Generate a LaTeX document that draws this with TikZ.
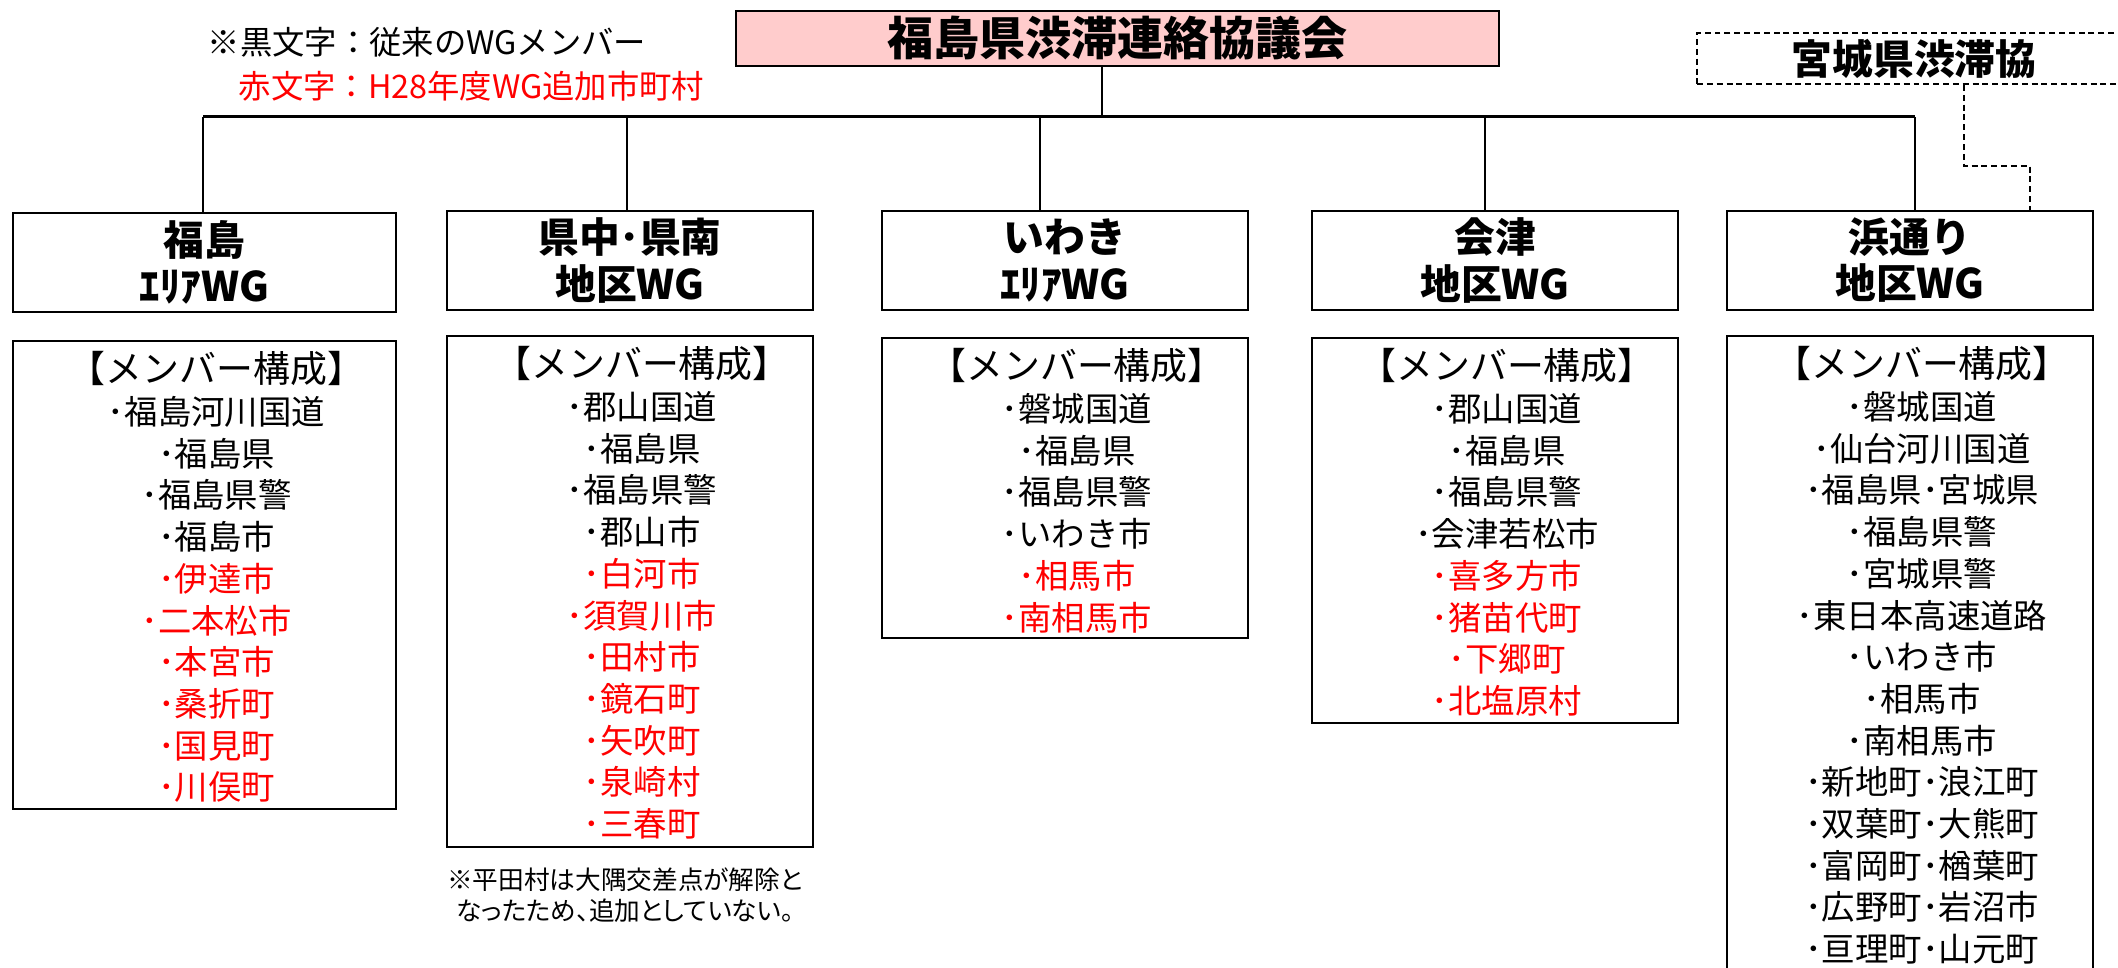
\documentclass[tikz,border=0pt]{standalone}
\usepackage{fontspec}
\setmainfont{Noto Sans CJK JP}
\newfontfamily\notefont{Noto Sans CJK JP}[RawFeature=+palt]
\usetikzlibrary{calc}
\definecolor{councilpink}{HTML}{FFCCCC}
\newcommand{\addcity}[1]{\textcolor{red}{#1}}
\newcommand{\memhead}{{\fontsize{10.5}{11.86}\selectfont 【メンバー構成】}}

\begin{document}
\begin{tikzpicture}[
    box/.style={draw=black, line width=0.65pt, inner sep=0pt, align=center},
    wgbox/.style={box, minimum height=0.99cm, font=\fontsize{11.6}{13.1}\selectfont\bfseries},
    membox/.style={box, anchor=north},
    memtext/.style={anchor=north, inner sep=0pt, align=center, font=\fontsize{9.5}{11.86}\selectfont},
    link/.style={line width=0.6pt},
    dashlink/.style={line width=0.55pt, dash pattern=on 1.7pt off 1.1pt}
]
            \useasboundingbox (0,0) rectangle (21.18,-9.68);
            \clip (0,0) rectangle (21.18,-9.68);

            % legend
            \node[anchor=west, inner sep=0pt, font=\fontsize{9.2}{11}\selectfont] (legend1) at (2.07,-0.42) {※黒文字：従来のWGメンバー};
            \node[anchor=west, inner sep=0pt, text=red, font=\fontsize{9.2}{11}\selectfont] (legend2) at (2.38,-0.86) {赤文字：H28年度WG追加市町村};

            % council and Miyagi
            \node[box, fill=councilpink, minimum width=7.63cm, minimum height=0.55cm, font=\fontsize{13.1}{15}\selectfont\bfseries] (council) at (11.175,-0.385) {福島県渋滞連絡協議会};
            \node[box, dashlink, minimum width=4.34cm, minimum height=0.51cm, font=\fontsize{11.6}{13}\selectfont\bfseries] (miyagi) at (19.14,-0.585) {宮城県渋滞協};

            % working groups
            \node[wgbox, minimum width=3.83cm] (wg1) at (2.045,-2.625) {福島\\ｴﾘｱWG};
            \node[wgbox, minimum width=3.66cm] (wg2) at (6.30,-2.605) {県中･県南\\地区WG};
            \node[wgbox, minimum width=3.66cm] (wg3) at (10.65,-2.605) {いわき\\ｴﾘｱWG};
            \node[wgbox, minimum width=3.66cm] (wg4) at (14.95,-2.605) {会津\\地区WG};
            \node[wgbox, minimum width=3.66cm] (wg5) at (19.10,-2.605) {浜通り\\地区WG};

            % tree lines
            \coordinate (stem) at (11.02,-1.17);
            \coordinate (bus1) at (2.03,-1.17);
            \coordinate (bus2) at (6.27,-1.17);
            \coordinate (bus3) at (10.40,-1.17);
            \coordinate (bus4) at (14.85,-1.17);
            \coordinate (bus5) at (19.15,-1.17);
            \draw[link] (council.south -| stem) -- (stem);
            \draw[line width=0.85pt] (bus1) -- (bus5);% Draw bus
            \foreach \i in {1,...,5}
                \draw[link] (bus\i) -- (bus\i |- wg\i.north);

            \coordinate (bend1) at (19.64,-1.66);
            \coordinate (bend2) at (20.30,-1.66);
            \draw[dashlink] (miyagi.south -| bend1) -- (bend1) -- (bend2) -- (bend2 |- wg5.north);

            % member boxes
            \node[membox, minimum width=3.83cm, minimum height=4.68cm] (mb1) at (2.045,-3.40) {};
            \node[membox, minimum width=3.66cm, minimum height=5.11cm] (mb2) at (6.30,-3.35) {};
            \node[membox, minimum width=3.66cm, minimum height=3.00cm] (mb3) at (10.65,-3.37) {};
            \node[membox, minimum width=3.66cm, minimum height=3.85cm] (mb4) at (14.95,-3.37) {};
            \node[membox, minimum width=3.66cm, minimum height=6.60cm] (mb5) at (19.10,-3.35) {};

            \node[memtext] (ml1) at ([xshift=0.12cm,yshift=-0.11cm]mb1.north)
                {\memhead\\･福島河川国道\\･福島県\\･福島県警\\･福島市\\
                 \addcity{･伊達市}\\\addcity{･二本松市}\\\addcity{･本宮市}\\
                 \addcity{･桑折町}\\\addcity{･国見町}\\\addcity{･川俣町}};
            \node[memtext] (ml2) at ([xshift=0.12cm,yshift=-0.11cm]mb2.north)
                {\memhead\\･郡山国道\\･福島県\\･福島県警\\･郡山市\\
                 \addcity{･白河市}\\\addcity{･須賀川市}\\\addcity{･田村市}\\
                 \addcity{･鏡石町}\\\addcity{･矢吹町}\\\addcity{･泉崎村}\\\addcity{･三春町}};
            \node[memtext] (ml3) at ([xshift=0.12cm,yshift=-0.11cm]mb3.north)
                {\memhead\\･磐城国道\\･福島県\\･福島県警\\･いわき市\\
                 \addcity{･相馬市}\\\addcity{･南相馬市}};
            \node[memtext] (ml4) at ([xshift=0.12cm,yshift=-0.11cm]mb4.north)
                {\memhead\\･郡山国道\\･福島県\\･福島県警\\･会津若松市\\
                 \addcity{･喜多方市}\\\addcity{･猪苗代町}\\\addcity{･下郷町}\\\addcity{･北塩原村}};
            \node[memtext] (ml5) at ([xshift=0.12cm,yshift=-0.11cm]mb5.north)
                {\memhead\\･磐城国道\\･仙台河川国道\\･福島県･宮城県\\･福島県警\\
                 ･宮城県警\\･東日本高速道路\\･いわき市\\･相馬市\\･南相馬市\\
                 ･新地町･浪江町\\･双葉町･大熊町\\･富岡町･楢葉町\\･広野町･岩沼市\\･亘理町･山元町};

            % note under Kenchu
            \node[inner sep=0pt, align=center, font=\notefont\fontsize{7.3}{8.8}\selectfont] (note) at (6.25,-8.955)
                {※平田村は大隅交差点が解除と\\なったため、追加としていない。};
\end{tikzpicture}
\end{document}
